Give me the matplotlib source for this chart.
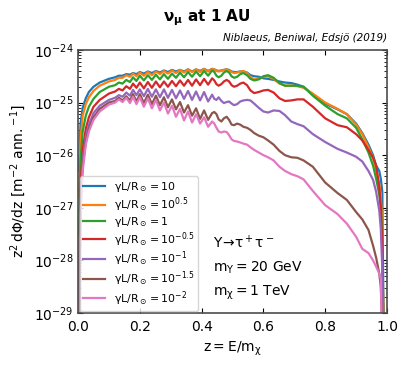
import matplotlib
matplotlib.use('Agg')
import matplotlib.pyplot as plt
import numpy as np

plt.rcParams['mathtext.default'] = 'regular'

# shared energy grid z = E/m_chi
z = [0.003, 0.008, 0.015, 0.025, 0.035, 0.05, 0.07, 0.1,
     0.12, 0.132, 0.144, 0.156, 0.168, 0.178, 0.189,
     0.2, 0.213, 0.226, 0.239, 0.252, 0.265, 0.278, 0.291, 0.304, 0.317,
     0.33, 0.343, 0.356, 0.369, 0.382, 0.395, 0.408, 0.421,
     0.434, 0.441, 0.448, 0.455, 0.464, 0.472, 0.481, 0.489, 0.497, 0.505,
     0.515, 0.525, 0.535, 0.547, 0.558, 0.57, 0.585, 0.60, 0.615, 0.633,
     0.652, 0.67, 0.69, 0.71, 0.73,
     0.76, 0.8, 0.84, 0.87, 0.9, 0.92, 0.94, 0.955, 0.965, 0.975, 0.98, 0.985, 0.99, 0.995]

# log10 of z^2 dPhi/dz, one list per gamma L / R_sun
logflux_10 = [-26.3, -25.4, -25.1, -24.92, -24.80, -24.70, -24.62, -24.55,
              -24.52, -24.49, -24.49, -24.46, -24.47, -24.44, -24.46,
              -24.42, -24.45, -24.41, -24.44, -24.40, -24.43, -24.39, -24.42, -24.38, -24.41,
              -24.38, -24.41, -24.37, -24.41, -24.37, -24.40, -24.36, -24.40,
              -24.36, -24.37, -24.39, -24.40, -24.39, -24.38, -24.37, -24.38, -24.41, -24.42,
              -24.42, -24.41, -24.41, -24.43, -24.48, -24.50, -24.51, -24.54, -24.55, -24.57,
              -24.60, -24.62, -24.63, -24.66, -24.70,
              -24.85, -25.02, -25.13, -25.22, -25.40, -25.58, -25.80, -26.0, -26.2, -26.3, -26.45, -26.7, -30, -30]
logflux_10p05 = [-26.8, -25.7, -25.25, -25.03, -24.90, -24.78, -24.68, -24.60,
                 -24.57, -24.53, -24.53, -24.48, -24.51, -24.45, -24.50,
                 -24.43, -24.49, -24.42, -24.48, -24.41, -24.46, -24.40, -24.45, -24.39, -24.44,
                 -24.38, -24.43, -24.37, -24.42, -24.37, -24.42, -24.36, -24.41,
                 -24.36, -24.37, -24.40, -24.41, -24.40, -24.38, -24.37, -24.39, -24.42, -24.44,
                 -24.43, -24.41, -24.40, -24.44, -24.52, -24.56, -24.55, -24.51, -24.50, -24.55,
                 -24.64, -24.68, -24.68, -24.69, -24.72,
                 -24.83, -25.0, -25.12, -25.22, -25.42, -25.6, -25.85, -26.05, -26.3, -26.55, -26.8, -27.3, -30, -30]
logflux_1 = [-27.5, -26.1, -25.55, -25.25, -25.08, -24.93, -24.80, -24.70,
             -24.67, -24.62, -24.64, -24.57, -24.61, -24.52, -24.59,
             -24.49, -24.58, -24.48, -24.57, -24.47, -24.56, -24.46, -24.55, -24.45, -24.53,
             -24.43, -24.52, -24.42, -24.51, -24.41, -24.50, -24.40, -24.49,
             -24.39, -24.42, -24.49, -24.52, -24.49, -24.43, -24.40, -24.43, -24.50, -24.53,
             -24.51, -24.46, -24.44, -24.48, -24.55, -24.58, -24.56, -24.50, -24.48, -24.53,
             -24.63, -24.68, -24.68, -24.68, -24.70,
             -24.87, -25.06, -25.22, -25.30, -25.48, -25.70, -25.95, -26.2, -26.45, -26.75, -27.0, -27.5, -30, -30]
logflux_10m05 = [-28.3, -26.6, -25.9, -25.5, -25.28, -25.08, -24.95, -24.83,
                 -24.79, -24.74, -24.77, -24.69, -24.74, -24.64, -24.72,
                 -24.62, -24.73, -24.61, -24.72, -24.60, -24.71, -24.60, -24.70, -24.59, -24.69,
                 -24.58, -24.68, -24.57, -24.68, -24.56, -24.67, -24.55, -24.66,
                 -24.54, -24.58, -24.65, -24.68, -24.65, -24.60, -24.57, -24.60, -24.67, -24.70,
                 -24.68, -24.64, -24.62, -24.67, -24.77, -24.82, -24.80, -24.77, -24.76, -24.81,
                 -24.92, -24.97, -24.96, -24.94, -24.94,
                 -25.08, -25.30, -25.43, -25.47, -25.60, -25.72, -25.90, -26.05, -26.2, -26.6, -27.0, -27.8, -30, -30]
logflux_10m1 = [-28.8, -26.9, -26.1, -25.65, -25.42, -25.2, -25.06, -24.95,
                -24.91, -24.86, -24.89, -24.81, -24.87, -24.76, -24.86,
                -24.75, -24.88, -24.74, -24.89, -24.75, -24.90, -24.75, -24.91, -24.76, -24.92,
                -24.77, -24.93, -24.78, -24.95, -24.79, -24.96, -24.80, -24.98,
                -24.85, -24.93, -24.95, -24.90, -24.97, -25.01, -24.99, -24.98, -25.02, -25.05,
                -25.03, -24.98, -24.96, -24.95, -24.96, -25.02, -25.10, -25.17, -25.19, -25.15,
                -25.16, -25.24, -25.36, -25.41, -25.45,
                -25.6, -25.75, -25.88, -25.95, -26.03, -26.12, -26.30, -26.47, -26.7, -27.05, -27.4, -28.2, -30, -30]
logflux_10m15 = [-29.2, -27.0, -26.2, -25.75, -25.5, -25.28, -25.12, -25.0,
                 -24.97, -24.91, -24.96, -24.88, -24.96, -24.84, -24.98,
                 -24.84, -25.01, -24.85, -25.03, -24.87, -25.05, -24.90, -25.09, -24.94, -25.13,
                 -24.99, -25.19, -25.05, -25.25, -25.11, -25.31, -25.15, -25.33,
                 -25.20, -25.18, -25.22, -25.32, -25.36, -25.30, -25.27, -25.33, -25.42, -25.43,
                 -25.40, -25.42, -25.46, -25.48, -25.52, -25.58, -25.63, -25.66, -25.72, -25.80,
                 -25.92, -26.0, -26.04, -26.05, -26.10,
                 -26.22, -26.52, -26.72, -26.85, -27.08, -27.22, -27.42, -27.72, -27.95, -28.25, -28.5, -29.3, -30, -30]
logflux_10m2 = [-29.5, -27.1, -26.3, -25.8, -25.55, -25.33, -25.17, -25.04,
                -25.00, -24.94, -24.99, -24.91, -25.01, -24.89, -25.03,
                -24.90, -25.08, -24.92, -25.11, -24.95, -25.15, -25.00, -25.21, -25.06, -25.27,
                -25.12, -25.34, -25.17, -25.38, -25.22, -25.40, -25.28, -25.46,
                -25.36, -25.40, -25.48, -25.55, -25.57, -25.55, -25.56, -25.62, -25.70, -25.73,
                -25.74, -25.76, -25.78, -25.80, -25.85, -25.90, -25.95, -26.0, -26.04, -26.10,
                -26.22, -26.30, -26.36, -26.40, -26.46,
                -26.68, -26.95, -27.12, -27.3, -27.55, -27.78, -27.86, -28.0, -28.12, -28.25, -28.35, -30, -30, -30]

labels = [r'$\gamma L/R_\odot = 10$', r'$\gamma L/R_\odot = 10^{0.5}$', r'$\gamma L/R_\odot = 1$',
          r'$\gamma L/R_\odot = 10^{-0.5}$', r'$\gamma L/R_\odot = 10^{-1}$',
          r'$\gamma L/R_\odot = 10^{-1.5}$', r'$\gamma L/R_\odot = 10^{-2}$']
curves = [logflux_10, logflux_10p05, logflux_1, logflux_10m05, logflux_10m1, logflux_10m15, logflux_10m2]

fig = plt.figure(figsize=(4.13, 3.67), dpi=100)
ax = fig.add_axes([0.189, 0.147, 0.748, 0.717])

for lf, lab in zip(curves, labels):
    ax.plot(z, 10.0 ** np.array(lf), lw=1.6, label=lab)

ax.set_yscale('log')
ax.set_xlim(0, 1)
ax.set_ylim(1e-29, 1e-24)
ax.set_xticks(np.arange(0, 1.01, 0.2))
ax.tick_params(which='both', direction='in', top=True, right=True, labelsize=10)
ax.tick_params(axis='x', pad=5)
for sp in ax.spines.values():
    sp.set_color('0.3')
    sp.set_linewidth(1.2)

ax.set_xlabel(r'$z = E/m_\chi$', fontsize=10)
ax.set_ylabel(r'$z^2\,d\Phi/dz\ [m^{-2}\ ann.^{-1}]$', fontsize=10)
fig.suptitle(r'$\mathbf{\nu_\mu}$ at 1 AU', fontweight='bold', fontsize=11, y=0.98)
ax.text(1.0, 1.025, 'Niblaeus, Beniwal, Edsjö (2019)', transform=ax.transAxes,
        ha='right', va='bottom', style='italic', fontsize=7.5)

ax.text(0.437, 0.266, r'$\Upsilon\!\to\!\tau^+\tau^-$', transform=ax.transAxes, va='center', fontsize=10)
ax.text(0.437, 0.171, r'$m_\Upsilon = 20$ GeV', transform=ax.transAxes, va='center', fontsize=10)
ax.text(0.437, 0.076, r'$m_\chi = 1$ TeV', transform=ax.transAxes, va='center', fontsize=10)

ax.legend(loc='lower left', fontsize=7.8, labelspacing=0.1, handlelength=2.0,
          borderpad=0.35, borderaxespad=0.15)

fig.savefig('out.png', dpi=100)
